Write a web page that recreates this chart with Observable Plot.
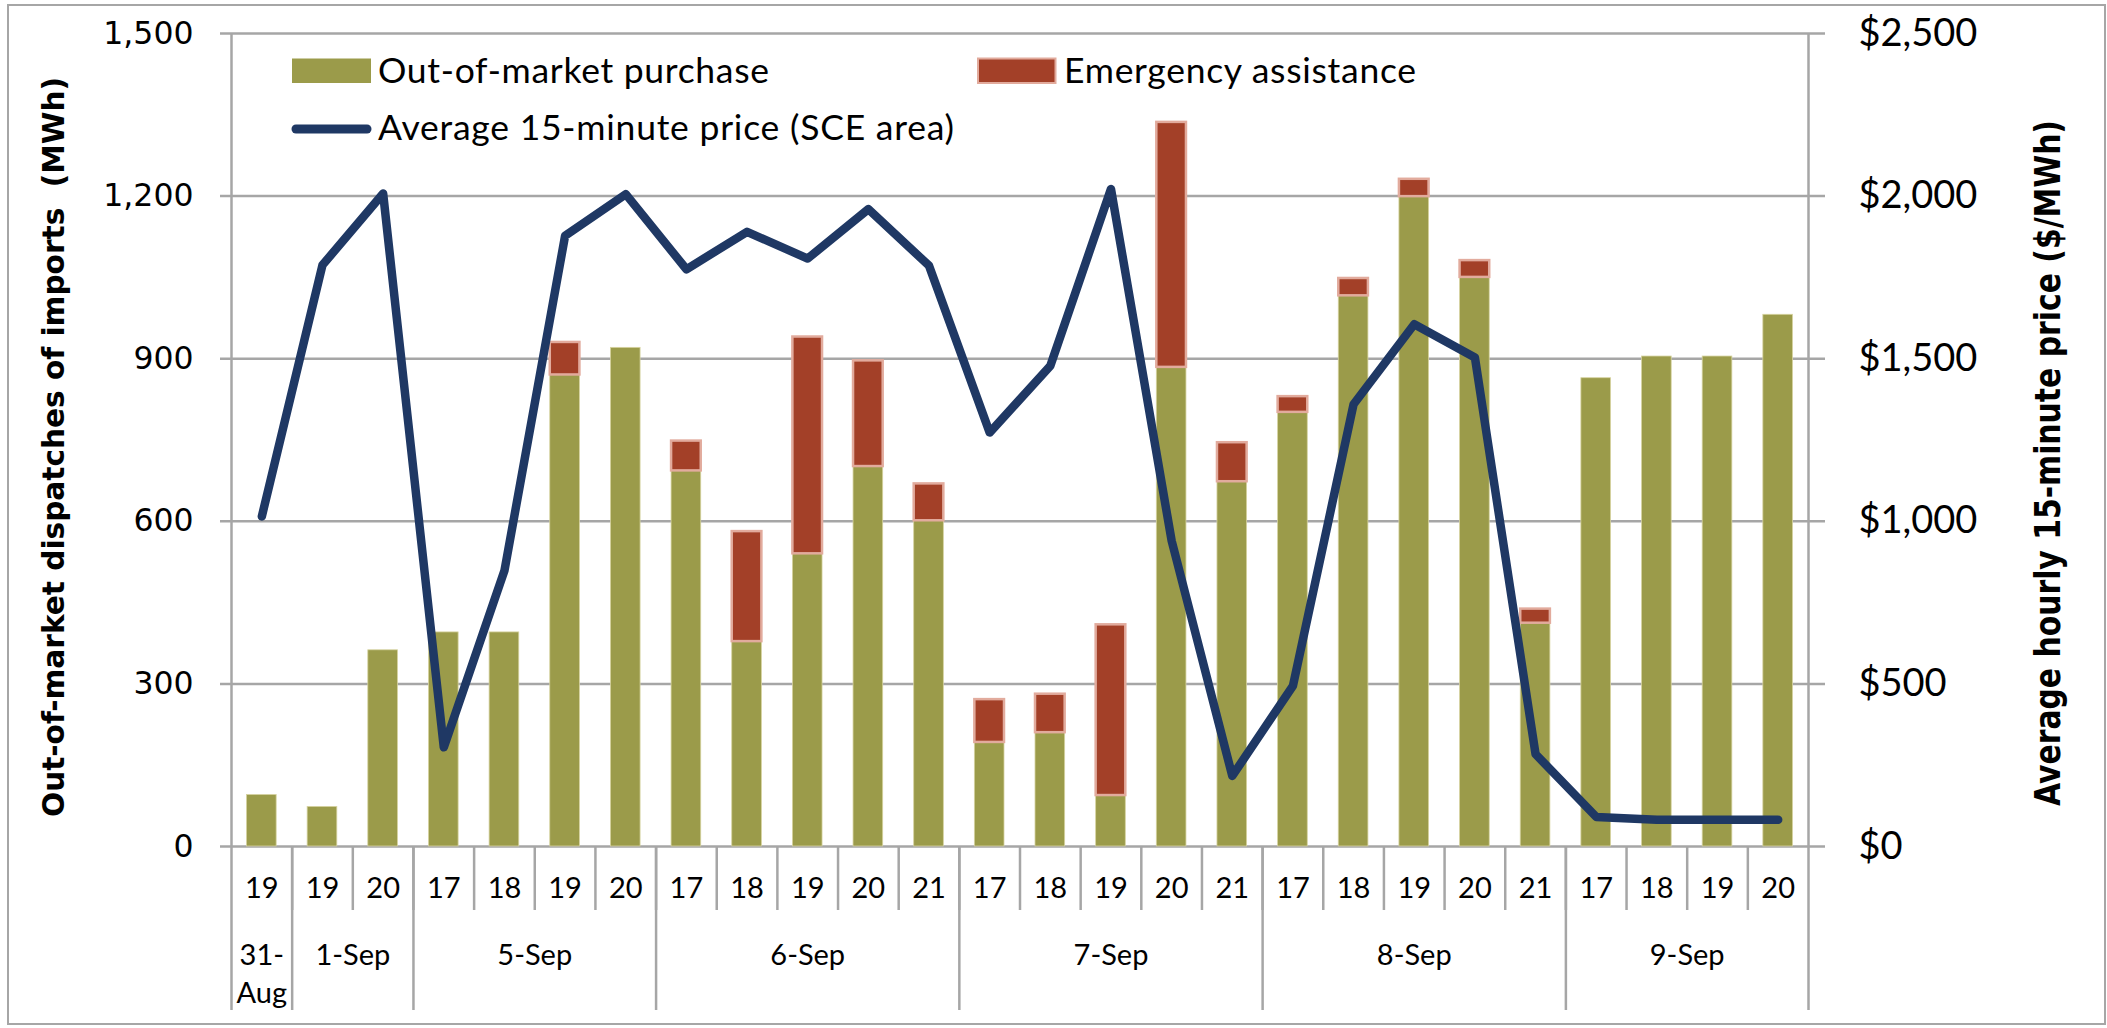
<!DOCTYPE html>
<html><head><meta charset="utf-8">
<script src="https://cdn.jsdelivr.net/npm/d3@7"></script>
<script src="https://cdn.jsdelivr.net/npm/@observablehq/plot@0.6"></script>
<style>
html,body{margin:0;padding:0;background:#fff;}
#wrap{position:relative;width:2107px;height:1028px;overflow:hidden;}
#border{position:absolute;left:7px;top:4px;width:2099px;height:1021px;border:2px solid #a6a6a6;box-sizing:border-box;pointer-events:none;}
svg{display:block}
</style></head><body><div id="wrap"><div id="border"></div></div>
<script>
// ---- data ----
const dayLabels = ["31-\nAug", "1-Sep", "5-Sep", "6-Sep", "7-Sep", "8-Sep", "9-Sep"];
const dayHours = [[19], [19, 20], [17, 18, 19, 20], [17, 18, 19, 20, 21], [17, 18, 19, 20, 21], [17, 18, 19, 20, 21], [17, 18, 19, 20]];
const purchase  = [95, 73, 362, 395, 395, 870, 920, 693, 378, 540, 701, 601, 192, 210, 94, 884, 673, 801, 1016, 1199, 1050, 412, 864, 904, 904, 981];
const emergency = [0, 0, 0, 0, 0, 60, 0, 55, 203, 400, 195, 68, 79, 71, 315, 452, 72, 29, 32, 32, 31, 26, 0, 0, 0, 0];
const price     = [1015, 1788, 2008, 305, 848, 1878, 2006, 1775, 1890, 1808, 1960, 1786, 1273, 1478, 2022, 940, 217, 494, 1360, 1606, 1504, 284, 91, 82, 82, 82];
const leftTicks  = [0, 300, 600, 900, 1200, 1500];
const rightTicks = [0, 500, 1000, 1500, 2000, 2500];
const seriesNames = ["Out-of-market purchase", "Emergency assistance", "Average 15-minute price (SCE area)"];
const yTitleLeft  = "Out-of-market dispatches of imports  (MWh)";
const yTitleRight = "Average hourly 15-minute price ($/MWh)";

// ---- derived tables ----
const rows = [];
const groups = [];
dayHours.forEach((hs, g) => {
  const start = rows.length;
  hs.forEach(h => {
    const i = rows.length;
    rows.push({i, hour: h, purchase: purchase[i], emergency: emergency[i], price: price[i]});
  });
  groups.push({label: dayLabels[g], start, end: rows.length});
});
const N = rows.length;
const leftMax = 1500, rightMax = 2500;
const toLeft = v => v * leftMax / rightMax;

const OLIVE = "#9b9b4a", RED = "#a34028", NAVY = "#1f3864", GRID = "#a6a6a6";
const W = 2107, H = 1028;
const mL = 231, mR = W - 1808, mT = 33, mB = H - 846;
const plotH = H - mT - mB;
const labelFont = "Lato, 'Open Sans', sans-serif";

const chart = Plot.plot({
  width: W, height: H,
  marginLeft: mL, marginRight: mR, marginTop: mT, marginBottom: mB,
  style: {background: "white", overflow: "visible"},
  x: {domain: [0, N], axis: null},
  y: {domain: [0, leftMax], axis: null},
  marks: [
    // gridlines with outward ticks on both sides
    Plot.ruleY(leftTicks, {stroke: GRID, strokeWidth: 2.5, insetLeft: -11, insetRight: -17}),
    // category separators below the axis
    Plot.ruleX(d3.range(1, N), {stroke: GRID, strokeWidth: 2.5, insetTop: plotH, insetBottom: -64}),
    // day-group separators
    Plot.ruleX([...new Set(groups.flatMap(g => [g.start, g.end]))], {stroke: GRID, strokeWidth: 2.5, insetTop: plotH, insetBottom: -164}),
    // axis lines
    Plot.ruleX([0, N], {stroke: GRID, strokeWidth: 2.5}),
    // bars
    Plot.rect(rows, {x1: "i", x2: d => d.i + 1, y1: 0, y2: "purchase", fill: OLIVE, stroke: "#d6d3a0", strokeWidth: 0.8, insetLeft: 15.5, insetRight: 15.5}),
    Plot.rect(rows.filter(d => d.emergency > 0), {x1: "i", x2: d => d.i + 1, y1: "purchase", y2: d => d.purchase + d.emergency, fill: RED, stroke: "#e2ab9d", strokeWidth: 2.5, insetLeft: 15.5, insetRight: 15.5}),
    // price line on the right-hand scale
    Plot.line(rows, {x: d => d.i + 0.5, y: d => toLeft(d.price), stroke: NAVY, strokeWidth: 8.5, strokeLinejoin: "round", strokeLinecap: "round"}),
    // axes
    Plot.axisY(leftTicks, {anchor: "left", tickSize: 0, tickPadding: 38, tickFormat: d3.format(","), fontSize: 31.5, fontFamily: "'DejaVu Sans', sans-serif", color: "black", label: null}),
    Plot.axisY(rightTicks.map(toLeft), {anchor: "right", tickSize: 0, tickPadding: 50, tickFormat: v => "$" + d3.format(",")(Math.round(v * rightMax / leftMax)), fontSize: 38, fontFamily: labelFont, color: "black", label: null}),
    // category labels
    Plot.text(rows, {x: d => d.i + 0.5, text: d => String(d.hour), frameAnchor: "bottom", dy: 51, fontSize: 29, fontFamily: labelFont, fill: "black"}),
    Plot.text(groups, {x: d => (d.start + d.end) / 2, text: "label", frameAnchor: "bottom", lineAnchor: "top", dy: 92, lineHeight: 1.31, fontSize: 29, fontFamily: labelFont, fill: "black"})
  ]
});
document.getElementById("wrap").prepend(chart);

// ---- titles and legend ----
const svg = d3.select(chart);
svg.append("text")
  .attr("transform", "translate(64,447) rotate(-90)")
  .attr("text-anchor", "middle")
  .attr("font-family", "'DejaVu Sans', sans-serif").attr("font-weight", "bold").attr("font-size", 31)
  .attr("textLength", 740).attr("lengthAdjust", "spacingAndGlyphs")
  .text(yTitleLeft);
svg.append("text")
  .attr("transform", "translate(2060,463) rotate(-90)")
  .attr("text-anchor", "middle")
  .attr("font-family", "'DejaVu Sans', sans-serif").attr("font-weight", "bold").attr("font-size", 35)
  .attr("textLength", 686).attr("lengthAdjust", "spacingAndGlyphs")
  .text(yTitleRight);

const lg = svg.append("g").attr("font-family", labelFont).attr("font-size", 35.5).attr("fill", "black").attr("text-anchor", "start");
lg.append("rect").attr("x", 292).attr("y", 58.5).attr("width", 79).attr("height", 24.5).attr("fill", OLIVE);
lg.append("text").attr("x", 378).attr("y", 82.7).attr("text-anchor", "start").attr("textLength", 391).attr("lengthAdjust", "spacing").text(seriesNames[0]);
lg.append("rect").attr("x", 978).attr("y", 58.5).attr("width", 77.5).attr("height", 24.5).attr("fill", RED).attr("stroke", "#e2ab9d").attr("stroke-width", 2);
lg.append("text").attr("x", 1064).attr("y", 82.7).attr("text-anchor", "start").attr("textLength", 352).attr("lengthAdjust", "spacing").text(seriesNames[1]);
lg.append("line").attr("x1", 296).attr("x2", 367).attr("y1", 129).attr("y2", 129).attr("stroke", NAVY).attr("stroke-width", 9).attr("stroke-linecap", "round");
lg.append("text").attr("x", 378).attr("y", 140).attr("text-anchor", "start").attr("textLength", 576).attr("lengthAdjust", "spacing").text(seriesNames[2]);
</script></body></html>
